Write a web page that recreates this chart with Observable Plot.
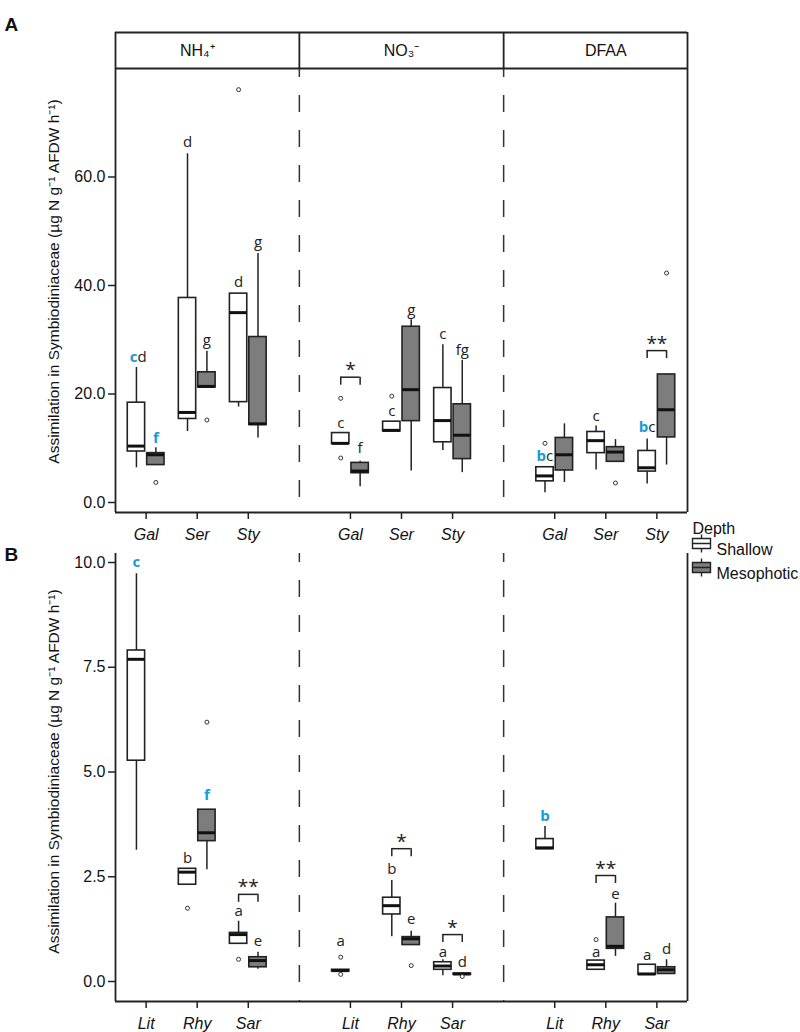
<!DOCTYPE html>
<html><head><meta charset="utf-8">
<script src="https://cdn.jsdelivr.net/npm/d3@7"></script>
<script src="https://cdn.jsdelivr.net/npm/@observablehq/plot@0.6"></script>
<style>
body{margin:0;background:#fff;}
#wrap{position:relative;width:800px;height:1032px;overflow:hidden;}
</style></head><body><div id="wrap"></div>
<script>
// ---------- data ----------
const nutrients = ["NH₄⁺", "NO₃⁻", "DFAA"];
const speciesA = ["Gal", "Ser", "Sty"];
const speciesB = ["Lit", "Rhy", "Sar"];
const depths = ["Shallow", "Mesophotic"];
const ticksA = [0, 20, 40, 60];
const ticksB = [0, 2.5, 5, 7.5, 10];
const yTitle = "Assimilation in Symbiodiniaceae (µg N g⁻¹ AFDW h⁻¹)";

// box stats [low whisker, Q1, median, Q3, high whisker]; order NH4(3), NO3(3), DFAA(3)
const shallowA = [
  [6.4, 9.4, 10.4, 18.4, 24.9], [13.1, 15.4, 16.6, 37.7, 64.3], [17.6, 18.5, 35.0, 38.5, 38.5],
  [10.8, 10.8, 10.9, 12.8, 12.8], [12.9, 13.1, 13.3, 14.9, 14.9], [9.6, 11.1, 15.1, 21.1, 29.1],
  [1.8, 3.9, 4.9, 6.5, 6.5], [6.0, 9.1, 11.4, 13.0, 14.1], [3.4, 5.7, 6.4, 9.5, 11.7]
];
const mesoA = [
  [6.9, 6.9, 8.8, 9.1, 10.1], [21.2, 21.2, 21.4, 24.0, 27.9], [11.9, 14.3, 14.5, 30.5, 45.9],
  [2.9, 5.4, 5.8, 7.3, 7.6], [5.8, 15.0, 20.8, 32.4, 33.7], [5.5, 8.0, 12.4, 18.1, 26.2],
  [3.7, 5.9, 8.8, 11.9, 14.5], [7.5, 7.5, 9.3, 10.2, 11.6], [6.9, 12.0, 17.1, 23.6, 23.6]
];
const outShallowA = [[], [], [76.1], [19.2, 8.2], [19.6], [], [10.9], [], []];
const outMesoA = [[3.7], [15.2], [], [], [], [], [], [3.6], [42.3]];
// letters [blue part, black part, value at which drawn]
const letShallowA = [["c", "d", 26.8], ["", "d", 66.4], ["", "d", 40.6], ["", "c", 14.6], ["", "c", 16.8], ["", "c", 31.1], ["b", "c", 8.5], ["", "c", 15.9], ["b", "c", 13.9]];
const letMesoA = [["f", "", 11.8], ["", "g", 29.9], ["", "g", 48.0], ["", "f", 10.0], ["", "g", 35.5], ["", "fg", 28.1], null, null, null];
const sigA = [[3, "*", 23.1], [8, "**", 28.0]];

const shallowB = [
  [3.13, 5.27, 7.69, 7.90, 9.73], [2.31, 2.31, 2.61, 2.69, 2.69], [0.90, 0.90, 1.12, 1.16, 1.44],
  [0.24, 0.24, 0.26, 0.28, 0.28], [1.07, 1.60, 1.81, 2.00, 2.41], [0.14, 0.28, 0.37, 0.46, 0.52],
  [3.16, 3.16, 3.19, 3.40, 3.70], [0.28, 0.28, 0.40, 0.50, 0.50], [0.16, 0.16, 0.18, 0.40, 0.40]
];
const mesoB = [
  null, [2.67, 3.35, 3.55, 4.10, 4.10], [0.29, 0.34, 0.50, 0.58, 0.70],
  null, [0.87, 0.87, 1.02, 1.06, 1.20], [0.16, 0.16, 0.18, 0.19, 0.19],
  null, [0.60, 0.78, 0.84, 1.53, 1.87], [0.18, 0.18, 0.28, 0.34, 0.52]
];
const outShallowB = [[], [1.75], [0.53], [0.58, 0.17], [], [], [], [1.00], []];
const outMesoB = [[], [6.19], [], [], [0.38], [0.12], [], [], []];
const letShallowB = [["c", "", 10.0], ["", "b", 2.95], ["", "a", 1.69], ["", "a", 0.96], ["", "b", 2.69], ["", "a", 0.70], ["b", "", 3.94], ["", "a", 0.70], ["", "a", 0.62]];
const letMesoB = [null, ["f", "", 4.44], ["", "e", 0.96], null, ["", "e", 1.48], ["", "d", 0.46], null, ["", "e", 2.09], ["", "d", 0.78]];
const sigB = [[2, "**", 2.08], [4, "*", 3.17], [5, "*", 1.12], [7, "**", 2.53]];

// ---------- styling ----------
const BLUE = "#1a9ad6";
const GRAY = "#7d7d7d";
const INK = "#222";
const DODGE = 0.19, HALF = 0.17;
const XMIN = 0.4, XMAX = 11.6;
const SANS = "'Liberation Sans', Arial, sans-serif";
const LETTER = "'Open Sans', sans-serif";

function xPos(i, depth) {
  return Math.floor(i / 3) * 4 + (i % 3) + 1 + (depth === "Shallow" ? -DODGE : DODGE);
}
function rows(stats, depth) {
  return stats.map((s, i) => s && {i, depth, lo: s[0], q1: s[1], med: s[2], q3: s[3], hi: s[4], x: xPos(i, depth)}).filter(Boolean);
}
function outs(list, depth) {
  return list.flatMap((vals, i) => vals.map(v => ({x: xPos(i, depth), v})));
}
function lets(list, depth) {
  return list.map((l, i) => l && {x: xPos(i, depth), blue: l[0], black: l[1], at: l[2]}).filter(Boolean);
}

const boxGlyph = {
  draw(ctx) {
    ctx.rect(-9, -5, 18, 10);
    ctx.moveTo(-9, 0); ctx.lineTo(9, 0);
    ctx.moveTo(0, -5); ctx.lineTo(0, -9);
    ctx.moveTo(0, 5); ctx.lineTo(0, 9);
  }
};

function panel(cfg) {
  const {species, shallow, meso, outS, outM, letS, letM, sig, yDomain, yTicks, height, marginTop, marginBottom, headerBottom, tag, tagDy, titleDy, legend} = cfg;
  const [ymin, ymax] = yDomain;
  const plotH = height - marginTop - marginBottom;
  const perPx = (ymax - ymin) / plotH;
  const leg = 8 * perPx;
  const sRows = rows(shallow, "Shallow"), mRows = rows(meso, "Mesophotic");
  const allRows = sRows.concat(mRows);
  const allLets = lets(letS, "Shallow").concat(lets(letM, "Mesophotic"));
  const sigRows = sig.map(([i, s, top]) => ({x1: xPos(i, "Shallow"), x2: xPos(i, "Mesophotic"), s, top}));
  const legs = sigRows.flatMap(d => [{x: d.x1, top: d.top}, {x: d.x2, top: d.top}]);
  const dashTop = headerBottom ?? ymax;
  const marks = [
    // frame
    Plot.ruleX([XMIN, XMAX], {y1: ymin, y2: ymax, stroke: INK, strokeWidth: 1.8}),
    Plot.ruleY([ymin], {x1: XMIN, x2: XMAX, stroke: INK, strokeWidth: 1.8}),
    Plot.ruleX([4, 8], {y1: dashTop, y2: ymin, stroke: "#333", strokeWidth: 1.5, strokeDasharray: "17,18", strokeDashoffset: 8}),
  ];
  if (headerBottom != null) {
    marks.push(
      Plot.ruleY([headerBottom, ymax], {x1: XMIN, x2: XMAX, stroke: INK, strokeWidth: 1.8}),
      Plot.ruleX([4, 8], {y1: headerBottom, y2: ymax, stroke: INK, strokeWidth: 1.8}),
      Plot.text(nutrients, {x: (d, i) => 2 + 4 * i, y: (headerBottom + ymax) / 2, text: d => d, fontSize: 16, fontFamily: SANS, fill: "#111"})
    );
  }
  marks.push(
    Plot.axisY({ticks: yTicks, tickFormat: d => d.toFixed(1), tickSize: 7, tickPadding: 3, fontSize: 16, fontFamily: SANS, label: null, strokeWidth: 1.5, stroke: INK}),
    Plot.axisX({ticks: [1, 2, 3, 5, 6, 7, 9, 10, 11], tickFormat: d => species[(d - 1) % 4], tickSize: 7, tickPadding: 9, fontSize: 16, fontStyle: "italic", fontFamily: SANS, label: null, strokeWidth: 1.5, stroke: INK}),
    Plot.text([yTitle], {frameAnchor: "left", textAnchor: "middle", lineAnchor: "middle", rotate: -90, dx: -61, dy: titleDy, fontSize: 15.5, fontFamily: SANS, fill: "#111"}),
    Plot.text([tag], {frameAnchor: "top-left", textAnchor: "start", dx: -111, dy: tagDy, fontSize: 19, fontWeight: "bold", fontFamily: SANS, fill: "#111"}),
    // whiskers
    Plot.ruleX(allRows, {x: "x", y1: "lo", y2: "hi", stroke: INK, strokeWidth: 1.5}),
    // boxes
    Plot.rect(sRows, {x1: d => d.x - HALF, x2: d => d.x + HALF, y1: "q1", y2: "q3", fill: "white", stroke: INK, strokeWidth: 1.6}),
    Plot.rect(mRows, {x1: d => d.x - HALF, x2: d => d.x + HALF, y1: "q1", y2: "q3", fill: GRAY, stroke: INK, strokeWidth: 1.6}),
    // medians
    Plot.ruleY(allRows, {y: "med", x1: d => d.x - HALF, x2: d => d.x + HALF, stroke: "#111", strokeWidth: 3}),
    // outliers
    Plot.dot(outs(outS, "Shallow").concat(outs(outM, "Mesophotic")), {x: "x", y: "v", r: 2, fill: "white", stroke: "#333", strokeWidth: 1}),
    // letters: blue part + black part side by side, or a single centred letter
    Plot.text(allLets.filter(d => d.blue && d.black), {x: "x", y: "at", text: "blue", textAnchor: "end", dx: 1, fill: BLUE, fontWeight: "bold", fontSize: 15, fontFamily: LETTER}),
    Plot.text(allLets.filter(d => d.blue && d.black), {x: "x", y: "at", text: "black", textAnchor: "start", dx: 1, fill: "#222", fontSize: 15, fontFamily: LETTER}),
    Plot.text(allLets.filter(d => d.blue && !d.black), {x: "x", y: "at", text: "blue", fill: BLUE, fontWeight: "bold", fontSize: 15, fontFamily: LETTER}),
    Plot.text(allLets.filter(d => d.black && !d.blue), {x: "x", y: "at", text: "black", fill: "#222", fontSize: 15, fontFamily: LETTER}),
    // significance brackets
    Plot.ruleY(sigRows, {y: "top", x1: "x1", x2: "x2", stroke: INK, strokeWidth: 1.5}),
    Plot.ruleX(legs, {x: "x", y1: "top", y2: d => d.top - leg, stroke: INK, strokeWidth: 1.5}),
    Plot.text(sigRows, {x: d => (d.x1 + d.x2) / 2, y: "top", text: "s", dy: -7, fontSize: 19, fontFamily: LETTER, fill: "#222"})
  );
  if (legend) {
    marks.push(
      Plot.text(["Depth"], {frameAnchor: "top-right", textAnchor: "start", dx: 5, dy: -31, fontSize: 16, fontFamily: SANS, fill: "#111"}),
      Plot.dot([depths[0]], {frameAnchor: "top-right", dx: 14, dy: -10, symbol: boxGlyph, fill: "white", stroke: INK, strokeWidth: 1.4}),
      Plot.dot([depths[1]], {frameAnchor: "top-right", dx: 14, dy: 14, symbol: boxGlyph, fill: GRAY, stroke: INK, strokeWidth: 1.4}),
      Plot.text([depths[0]], {frameAnchor: "top-right", textAnchor: "start", dx: 29, dy: -10, fontSize: 16, fontFamily: SANS, fill: "#111"}),
      Plot.text([depths[1]], {frameAnchor: "top-right", textAnchor: "start", dx: 29, dy: 14, fontSize: 16, fontFamily: SANS, fill: "#111"})
    );
  }
  return Plot.plot({
    width: 800, height, marginLeft: 115, marginRight: 113, marginTop, marginBottom,
    x: {domain: [XMIN, XMAX]},
    y: {domain: yDomain},
    style: {background: "transparent", fontFamily: SANS, color: "#111", overflow: "visible"},
    marks
  });
}

const svgA = panel({
  species: speciesA, shallow: shallowA, meso: mesoA, outS: outShallowA, outM: outMesoA,
  letS: letShallowA, letM: letMesoA, sig: sigA,
  yDomain: [-1.843, 86.636], yTicks: ticksA, height: 545, marginTop: 32, marginBottom: 33,
  headerBottom: 80.0, tag: "A", tagDy: -15, titleDy: 9, legend: false
});
const svgB = panel({
  species: speciesB, shallow: shallowB, meso: mesoB, outS: outShallowB, outM: outMesoB,
  letS: letShallowB, letM: letMesoB, sig: sigB,
  yDomain: [-0.477, 10.215], yTicks: ticksB, height: 527, marginTop: 48, marginBottom: 31,
  headerBottom: null, tag: "B", tagDy: -6, titleDy: -6, legend: true
});
const wrap = document.getElementById("wrap");
for (const [svg, top] of [[svgA, 0], [svgB, 505]]) {
  svg.style.position = "absolute";
  svg.style.left = "0px";
  svg.style.top = top + "px";
  wrap.appendChild(svg);
}
</script></body></html>
